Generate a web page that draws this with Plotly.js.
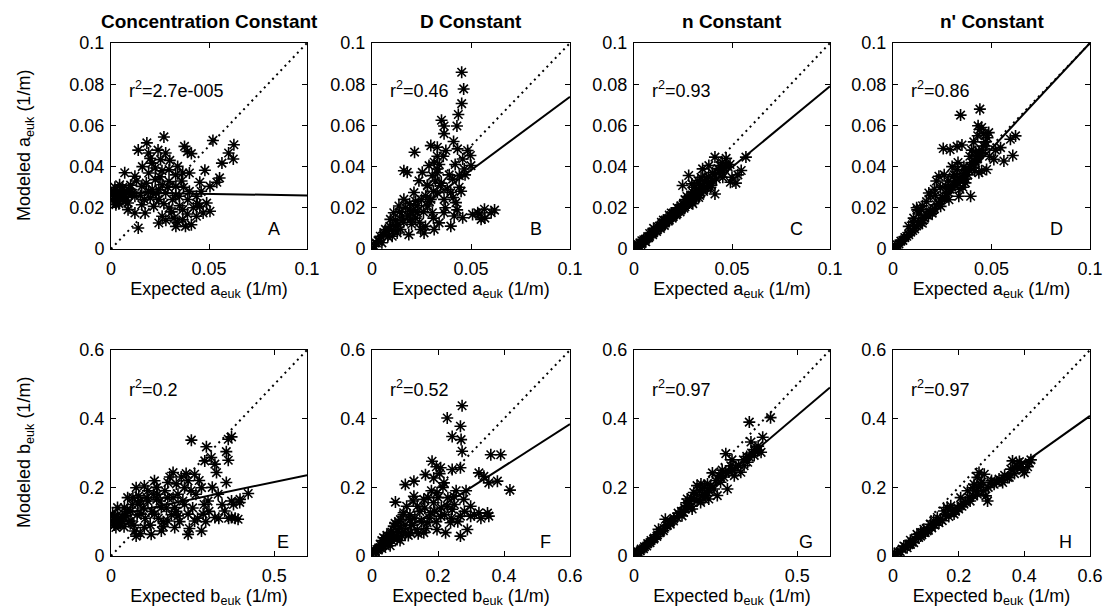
<!DOCTYPE html>
<html>
<head>
<meta charset="utf-8">
<script src="https://cdn.plot.ly/plotly-3.0.1.min.js"></script>
<style>html,body{margin:0;padding:0;background:#fff;}#chart{width:1104px;height:615px;}</style>
</head>
<body>
<div id="chart"></div>
<script>
// ---------------- DATA ----------------
const columnTitles = ["Concentration Constant", "D Constant", "n Constant", "n' Constant"];
const panelLetters = ["A","B","C","D","E","F","G","H"];
const r2Labels = ["2.7e-005","0.46","0.93","0.86","0.2","0.52","0.97","0.97"];
const topTickVals = [0, 0.02, 0.04, 0.06, 0.08, 0.1];
const topTickText = ["0", "0.02", "0.04", "0.06", "0.08", "0.1"];
const topXTickVals = [0, 0.05, 0.1];
const topXTickText = ["0", "0.05", "0.1"];
const botYTickVals = [0, 0.2, 0.4, 0.6];
const botYTickText = ["0", "0.2", "0.4", "0.6"];
const botXTickValsA = [0, 0.5];
const botXTickTextA = ["0", "0.5"];
const botXTickValsB = [0, 0.2, 0.4, 0.6];
const botXTickTextB = ["0", "0.2", "0.4", "0.6"];
// regression fits (intercept, slope) per panel A..H
const fitIntercept = [0.0275, 0.0026, 0.0005, -0.0025, 0.1156, 0.015, 0.005, 0.0];
const fitSlope     = [-0.015, 0.713, 0.785, 1.025, 0.2, 0.615, 0.81, 0.68];

// Panel A: Concentration constant, a_euk
const aX = [0.027,0.0183,0.0139,0.007,0.0375,0.041,0.052,0.0627,0.060,0.0624,0.0566,0.0554,0.054,0.0479,0.0453,0.040,0.0366,0.0296,0.0253,0.0209,0.0192,0.0226,0.0157,0.0122,0.0105,0.0052,0.0026,0.0017,0.0044,0.0035,0.0061,0.0087,0.0139,0.0174,0.0218,0.0261,0.0296,0.0331,0.0366,0.041,0.0436,0.047,0.0505,0.0488,0.0453,0.0392,0.0348,0.0314,0.0279,0.0244,0.020,0.0157,0.0122,0.0087,0.0331,0.0296,0.0261,0.040,0.034,0.039,0.0244,0.0192,0.0122,0.0366,0.0322,0.0244,0.0436,0.0505,0.0026,0.0009,0.0044,0.007,0.0192,0.0226,0.0279];
const aY = [0.0544,0.0515,0.048,0.037,0.0498,0.0463,0.0527,0.0506,0.0466,0.0437,0.0417,0.0345,0.0324,0.0382,0.0324,0.028,0.0369,0.0385,0.0434,0.0417,0.0369,0.0337,0.0304,0.0353,0.0272,0.0288,0.0256,0.028,0.0312,0.0231,0.024,0.0223,0.0102,0.0175,0.0207,0.0159,0.0199,0.011,0.0142,0.0118,0.0159,0.0175,0.0183,0.0223,0.0207,0.024,0.0256,0.024,0.0272,0.024,0.0248,0.0215,0.0175,0.0191,0.0304,0.0328,0.0312,0.0369,0.0401,0.0473,0.0288,0.028,0.0256,0.0191,0.015,0.0126,0.0256,0.0304,0.0223,0.0264,0.0264,0.0256,0.0466,0.0393,0.0466];
const aX2 = [0.001,0.002,0.003,0.004,0.005,0.006,0.007,0.008,0.009,0.010,0.0015,0.0045,0.0075,0.0025,0.011,0.013,0.015,0.017,0.018,0.021,0.023,0.025,0.027,0.029,0.031,0.033,0.035,0.037,0.039,0.042,0.044,0.046,0.028,0.034,0.038,0.020,0.024,0.016,0.030,0.033,0.036,0.026];
const aY2 = [0.024,0.030,0.027,0.022,0.026,0.030,0.028,0.025,0.029,0.031,0.0275,0.0245,0.0235,0.0215,0.027,0.033,0.026,0.024,0.032,0.029,0.027,0.035,0.022,0.030,0.018,0.026,0.021,0.030,0.017,0.020,0.022,0.028,0.014,0.013,0.011,0.044,0.048,0.040,0.043,0.036,0.033,0.038];

// Panel B: D constant, a_euk
const bX = [0.0453,0.0463,0.0453,0.0436,0.0429,0.0364,0.0351,0.0364,0.0412,0.0215,0.0297,0.033,0.0373,0.0497,0.0458,0.0314,0.033,0.0305,0.0178,0.0161,0.0237,0.0212,0.028,0.0347,0.0407,0.0466,0.0441,0.0398,0.0364,0.0424,0.0458,0.0415,0.0364,0.0305,0.0339,0.028,0.0229,0.0246,0.0186,0.0195,0.0153,0.0136,0.0161,0.011,0.0093,0.0068,0.0042,0.0022,0.0012,0.0034,0.0059,0.0085,0.0119,0.0144,0.0534,0.0568,0.0602,0.0551,0.0508,0.0619,0.0263,0.0314,0.0398,0.0271,0.033,0.0254,0.0288,0.0195,0.0127,0.0432,0.0483,0.050,0.022,0.0297,0.0102];
const bY = [0.0858,0.0777,0.0706,0.0653,0.0597,0.0597,0.0625,0.056,0.0522,0.047,0.0502,0.0494,0.0478,0.0454,0.0437,0.0421,0.0388,0.0356,0.0372,0.038,0.0331,0.0274,0.0307,0.0307,0.0339,0.0388,0.0356,0.0274,0.0241,0.0225,0.0152,0.016,0.0176,0.0176,0.0127,0.0209,0.0176,0.0095,0.007,0.0144,0.016,0.0209,0.0241,0.0176,0.0144,0.0095,0.0062,0.0029,0.0013,0.0038,0.007,0.0095,0.0111,0.0095,0.0176,0.0193,0.0176,0.0144,0.0168,0.0189,0.0078,0.0095,0.0111,0.0258,0.0274,0.0372,0.0405,0.0184,0.0078,0.0486,0.0478,0.0405,0.0232,0.0241,0.0062];
const bX2 = [0.003,0.005,0.006,0.008,0.009,0.011,0.012,0.013,0.014,0.016,0.017,0.018,0.019,0.020,0.021,0.022,0.023,0.024,0.025,0.026,0.027,0.029,0.031,0.032,0.033,0.034,0.035,0.036,0.038,0.039,0.041,0.042,0.044,0.045,0.047,0.043,0.037,0.031,0.028,0.033,0.054,0.057];
const bY2 = [0.004,0.003,0.008,0.006,0.011,0.009,0.014,0.012,0.018,0.013,0.020,0.016,0.022,0.012,0.019,0.015,0.021,0.013,0.024,0.018,0.011,0.023,0.028,0.033,0.037,0.041,0.032,0.045,0.029,0.036,0.025,0.041,0.030,0.028,0.036,0.019,0.020,0.015,0.031,0.045,0.017,0.015];

// Panel C: n constant, a_euk
const cX = [0.001,0.002,0.003,0.004,0.005,0.006,0.007,0.008,0.009,0.010,0.011,0.012,0.013,0.014,0.015,0.016,0.017,0.018,0.019,0.020,0.021,0.022,0.023,0.024,0.025,0.026,0.027,0.028,0.029,0.030,0.031,0.032,0.033,0.034,0.036,0.038,0.040,0.0015,0.0035,0.0055,0.0075,0.0095,0.0115,0.0135,0.0155,0.0175,0.0195,0.0215,0.0235,0.0255,0.0275,0.0295,0.0315,0.0335,0.0355,0.0375,0.0395,0.010,0.014,0.018,0.022,0.026,0.030,0.034,0.037,0.040,0.043,0.045,0.047,0.044,0.048,0.0571,0.0547,0.0492,0.050,0.0413,0.0382,0.035,0.0413,0.0326,0.0295,0.0303,0.0248,0.0279,0.0342,0.0437,0.0468,0.0453];
const cY = [0.0012,0.0010,0.0030,0.0028,0.0045,0.0048,0.0060,0.0062,0.0078,0.0080,0.0092,0.0095,0.0110,0.0112,0.0128,0.0126,0.0145,0.0140,0.0162,0.0158,0.0178,0.0172,0.0195,0.0190,0.0215,0.0205,0.0232,0.0225,0.0250,0.0240,0.0265,0.0262,0.0285,0.0275,0.0300,0.0320,0.0335,0.0005,0.0022,0.0038,0.0055,0.0070,0.0085,0.0100,0.0115,0.0135,0.0150,0.0165,0.0180,0.0198,0.0215,0.0230,0.0248,0.0260,0.0280,0.0295,0.0310,0.0100,0.0130,0.0165,0.0200,0.0240,0.0275,0.0310,0.0345,0.0370,0.0390,0.0420,0.0440,0.0405,0.0400,0.0446,0.0381,0.0324,0.0348,0.0446,0.0405,0.0389,0.0267,0.0332,0.0316,0.0259,0.0308,0.0357,0.0348,0.0381,0.0405,0.0348];
const cX2 = [0.002,0.004,0.006,0.008,0.012,0.016,0.020,0.024,0.028,0.032,0.035,0.036,0.038,0.039,0.041,0.042,0.044,0.046,0.045,0.049,0.052,0.053,0.031,0.027,0.019,0.015,0.033,0.030];
const cY2 = [0.0022,0.0040,0.0035,0.0075,0.0108,0.0140,0.0175,0.0210,0.0245,0.0280,0.0290,0.0330,0.0350,0.0300,0.0360,0.0340,0.0380,0.0395,0.0370,0.0410,0.0320,0.0360,0.0300,0.0255,0.0175,0.0140,0.0250,0.0220];

// Panel D: n' constant, a_euk
const dX = [0.0343,0.0441,0.0432,0.045,0.0486,0.0622,0.0596,0.0546,0.0608,0.0563,0.0512,0.0475,0.0453,0.0255,0.029,0.0325,0.0350,0.0123,0.0182,0.0233,0.0267,0.0326,0.0368,0.0394,0.0334,0.0284,0.0242,0.0199,0.0149,0.0385,0.0419,0.0436,0.001,0.002,0.003,0.004,0.005,0.006,0.007,0.008,0.009,0.010,0.011,0.012,0.013,0.014,0.015,0.016,0.017,0.018,0.019,0.020,0.021,0.022,0.023,0.024,0.025,0.026,0.027,0.028,0.029,0.030,0.031,0.032,0.033,0.034,0.035,0.036,0.037,0.038,0.039,0.040,0.041,0.042,0.043,0.044,0.045,0.046,0.047,0.048,0.0105,0.0145,0.0215,0.0305,0.0355,0.0415];
const dY = [0.065,0.0679,0.0598,0.059,0.0565,0.0549,0.0533,0.0492,0.0454,0.0427,0.0435,0.0386,0.0467,0.0488,0.0482,0.0498,0.0505,0.019,0.0272,0.0353,0.0305,0.0386,0.0321,0.0256,0.0256,0.0239,0.0207,0.0174,0.0125,0.0386,0.0419,0.037,0.0008,0.0020,0.0025,0.0038,0.0042,0.0055,0.0062,0.0070,0.0082,0.0090,0.0098,0.0112,0.0118,0.0130,0.0138,0.0150,0.0165,0.0162,0.0180,0.0185,0.0195,0.0215,0.0220,0.0232,0.0250,0.0245,0.0270,0.0275,0.0290,0.0300,0.0310,0.0330,0.0320,0.0345,0.0350,0.0365,0.0380,0.0360,0.0400,0.0420,0.0410,0.0440,0.0450,0.0470,0.0480,0.0500,0.0520,0.0540,0.0150,0.0190,0.0260,0.0350,0.0300,0.0380];
const dX2 = [0.008,0.010,0.012,0.013,0.015,0.017,0.019,0.021,0.022,0.024,0.026,0.028,0.030,0.031,0.033,0.034,0.036,0.037,0.039,0.040,0.041,0.042,0.043,0.044,0.046,0.047,0.049,0.052,0.043,0.045];
const dY2 = [0.011,0.013,0.020,0.017,0.021,0.023,0.026,0.029,0.033,0.030,0.036,0.033,0.040,0.036,0.042,0.029,0.040,0.034,0.045,0.048,0.052,0.047,0.055,0.058,0.056,0.050,0.045,0.048,0.044,0.038];

// Panel E: Concentration constant, b_euk
const eX = [0.246,0.292,0.369,0.359,0.353,0.359,0.307,0.318,0.287,0.323,0.353,0.42,0.394,0.389,0.369,0.348,0.318,0.369,0.277,0.256,0.236,0.19,0.133,0.077,0.051,0.02,0.01,0.015,0.077,0.123,0.236,0.277,0.256,0.174,0.195,0.154,0.113,0.092,0.061,0.041,0.031,0.005,0.003,0.02,0.046,0.082,0.113,0.143,0.174,0.205,0.22,0.236,0.195,0.154,0.102,0.072,0.225,0.174,0.102,0.067,0.133,0.205,0.282,0.297,0.328,0.01,0.03,0.06,0.09,0.14,0.16,0.2];
const eY = [0.3375,0.318,0.347,0.34,0.304,0.279,0.287,0.2675,0.277,0.243,0.214,0.182,0.156,0.107,0.112,0.131,0.112,0.16,0.199,0.238,0.219,0.243,0.219,0.199,0.17,0.141,0.112,0.083,0.058,0.063,0.063,0.073,0.102,0.102,0.141,0.141,0.16,0.122,0.102,0.141,0.102,0.122,0.102,0.107,0.117,0.151,0.19,0.18,0.17,0.18,0.16,0.122,0.083,0.073,0.083,0.073,0.199,0.214,0.204,0.17,0.122,0.117,0.122,0.16,0.18,0.09,0.095,0.13,0.16,0.165,0.1,0.13];
const eX2 = [0.01,0.02,0.025,0.035,0.04,0.05,0.055,0.065,0.07,0.08,0.085,0.09,0.10,0.105,0.11,0.12,0.125,0.13,0.14,0.145,0.15,0.16,0.165,0.17,0.18,0.185,0.19,0.20,0.21,0.215,0.225,0.23,0.24,0.245,0.25,0.26,0.265,0.27,0.285,0.29,0.30,0.31,0.33,0.34,0.36,0.375,0.38,0.395];
const eY2 = [0.09,0.12,0.095,0.115,0.085,0.13,0.10,0.15,0.09,0.12,0.175,0.065,0.14,0.11,0.17,0.09,0.13,0.18,0.20,0.11,0.16,0.085,0.19,0.14,0.23,0.12,0.17,0.21,0.10,0.23,0.15,0.24,0.08,0.19,0.14,0.18,0.11,0.22,0.15,0.10,0.13,0.20,0.11,0.15,0.11,0.15,0.11,0.165];

// Panel F: D constant, b_euk
const fX = [0.273,0.228,0.268,0.243,0.27,0.273,0.268,0.243,0.36,0.39,0.38,0.418,0.354,0.324,0.339,0.182,0.208,0.162,0.127,0.101,0.071,0.187,0.218,0.197,0.248,0.278,0.299,0.324,0.354,0.299,0.268,0.289,0.268,0.238,0.208,0.177,0.167,0.137,0.116,0.096,0.137,0.101,0.076,0.056,0.046,0.025,0.015,0.005,0.035,0.066,0.086,0.157,0.127,0.187,0.228,0.025,0.051,0.076,0.116,0.157,0.197,0.223,0.243,0.01,0.03,0.04,0.06,0.09];
const fY = [0.4375,0.402,0.378,0.348,0.339,0.305,0.257,0.252,0.295,0.295,0.218,0.192,0.213,0.242,0.232,0.276,0.257,0.237,0.218,0.208,0.157,0.227,0.213,0.184,0.174,0.165,0.145,0.126,0.116,0.116,0.116,0.077,0.058,0.097,0.116,0.126,0.097,0.145,0.106,0.126,0.077,0.068,0.077,0.068,0.048,0.034,0.019,0.01,0.053,0.087,0.106,0.165,0.174,0.155,0.145,0.024,0.039,0.048,0.068,0.068,0.077,0.068,0.136,0.012,0.022,0.03,0.045,0.06];
const fX2 = [0.01,0.02,0.03,0.03,0.04,0.045,0.05,0.055,0.06,0.065,0.07,0.075,0.08,0.085,0.09,0.095,0.10,0.105,0.11,0.115,0.12,0.125,0.13,0.14,0.145,0.15,0.16,0.165,0.17,0.175,0.18,0.19,0.195,0.20,0.21,0.215,0.22,0.23,0.24,0.25,0.255,0.26,0.28,0.31,0.33,0.35,0.285,0.205,0.195];
const fY2 = [0.015,0.02,0.03,0.045,0.035,0.06,0.05,0.03,0.07,0.055,0.095,0.06,0.10,0.045,0.08,0.12,0.09,0.145,0.06,0.12,0.09,0.16,0.11,0.065,0.13,0.10,0.14,0.08,0.17,0.11,0.19,0.13,0.10,0.17,0.14,0.20,0.12,0.17,0.11,0.15,0.19,0.10,0.13,0.12,0.11,0.125,0.19,0.24,0.26];

// Panel G: n constant, b_euk
const gX = [0.353,0.418,0.358,0.394,0.281,0.296,0.24,0.286,0.214,0.183,0.163,0.389,0.368,0.348,0.327,0.307,0.265,0.245,0.224,0.204,0.178,0.152,0.121,0.101,0.08,0.06,0.039,0.019,0.008,0.029,0.049,0.07,0.09,0.111,0.132,0.147,0.168,0.193,0.219,0.235,0.26,0.281,0.312,0.337,0.353,0.379,0.255,0.229,0.193,0.163,0.096,0.075,0.004,0.013];
const gY = [0.39,0.403,0.332,0.346,0.298,0.263,0.242,0.195,0.166,0.185,0.166,0.302,0.293,0.273,0.244,0.234,0.215,0.195,0.185,0.156,0.137,0.127,0.102,0.088,0.068,0.049,0.029,0.015,0.008,0.021,0.039,0.057,0.074,0.093,0.112,0.117,0.141,0.161,0.176,0.205,0.234,0.244,0.259,0.263,0.288,0.307,0.176,0.166,0.205,0.146,0.107,0.078,0.004,0.01];
const gX2 = [0.012,0.022,0.032,0.042,0.052,0.062,0.072,0.082,0.092,0.102,0.112,0.122,0.135,0.145,0.155,0.16,0.17,0.175,0.185,0.19,0.2,0.21,0.215,0.225,0.23,0.25,0.265,0.275,0.29,0.3,0.32,0.335,0.345,0.36,0.37,0.38,0.3,0.27,0.205,0.175];
const gY2 = [0.012,0.02,0.027,0.036,0.045,0.052,0.062,0.072,0.08,0.09,0.10,0.11,0.125,0.13,0.14,0.155,0.16,0.17,0.165,0.18,0.19,0.18,0.2,0.21,0.19,0.22,0.23,0.23,0.245,0.25,0.265,0.28,0.29,0.30,0.31,0.32,0.28,0.25,0.21,0.145];

// Panel H: n' constant, b_euk
const hX = [0.364,0.38,0.415,0.4,0.349,0.323,0.298,0.278,0.283,0.288,0.267,0.257,0.242,0.232,0.216,0.196,0.181,0.16,0.145,0.124,0.104,0.084,0.063,0.043,0.022,0.01,0.033,0.053,0.073,0.094,0.114,0.135,0.155,0.176,0.206,0.227,0.247,0.257,0.262,0.334,0.359,0.354,0.39,0.308,0.186,0.165,0.124,0.084,0.053,0.004];
const hY = [0.277,0.258,0.272,0.243,0.229,0.224,0.214,0.238,0.175,0.16,0.209,0.18,0.199,0.17,0.151,0.141,0.131,0.122,0.107,0.092,0.073,0.058,0.039,0.024,0.013,0.005,0.029,0.046,0.063,0.078,0.092,0.112,0.131,0.146,0.17,0.19,0.209,0.229,0.243,0.214,0.253,0.229,0.268,0.209,0.122,0.141,0.102,0.068,0.034,0.003];
const hX2 = [0.015,0.028,0.038,0.048,0.058,0.068,0.078,0.088,0.098,0.108,0.118,0.128,0.14,0.15,0.17,0.19,0.2,0.21,0.22,0.235,0.245,0.25,0.26,0.27,0.275,0.29,0.3,0.315,0.33,0.34,0.37,0.375,0.385,0.395,0.41,0.42];
const hY2 = [0.012,0.02,0.027,0.033,0.04,0.048,0.054,0.062,0.068,0.075,0.082,0.09,0.097,0.103,0.115,0.13,0.137,0.145,0.158,0.16,0.175,0.19,0.2,0.215,0.19,0.2,0.22,0.215,0.22,0.235,0.24,0.262,0.275,0.25,0.26,0.28];

// ---------------- LAYOUT ----------------
const W = 1104, H = 615;
const colPx = [[111, 307], [372, 570], [634, 830], [893, 1090]];
const rowPx = [[43, 249], [350, 556]];
const FONT = "Liberation Sans, Arial, Helvetica, sans-serif";

const panelX = [aX.concat(aX2), bX.concat(bX2), cX.concat(cX2), dX.concat(dX2), eX.concat(eX2), fX.concat(fX2), gX.concat(gX2), hX.concat(hX2)];
const panelY = [aY.concat(aY2), bY.concat(bY2), cY.concat(cY2), dY.concat(dY2), eY.concat(eY2), fY.concat(fY2), gY.concat(gY2), hY.concat(hY2)];

const traces = [];
const layout = {
  width: W, height: H,
  margin: {l: 0, r: 0, t: 0, b: 0},
  paper_bgcolor: "#fff", plot_bgcolor: "#fff",
  showlegend: false,
  font: {family: FONT, size: 18, color: "#000"},
  annotations: []
};

for (let i = 0; i < 8; i++) {
  const row = i < 4 ? 0 : 1, col = i % 4;
  const n = i + 1;
  const xa = n === 1 ? "xaxis" : "xaxis" + n;
  const ya = n === 1 ? "yaxis" : "yaxis" + n;
  const xr = n === 1 ? "x" : "x" + n;
  const yr = n === 1 ? "y" : "y" + n;
  const max = row === 0 ? 0.1 : 0.6;
  const varName = row === 0 ? "a" : "b";

  let xtv, xtt;
  if (row === 0) { xtv = topXTickVals; xtt = topXTickText; }
  else if (col === 0 || col === 2) { xtv = botXTickValsA; xtt = botXTickTextA; }
  else { xtv = botXTickValsB; xtt = botXTickTextB; }

  const common = {
    showgrid: false, zeroline: false, showline: true, linecolor: "#000", linewidth: 1,
    mirror: "ticks", ticks: "inside", ticklen: 5, tickwidth: 1, tickcolor: "#000",
    tickfont: {family: FONT, size: 18, color: "#000"}, fixedrange: true
  };
  layout[xa] = Object.assign({}, common, {
    domain: [colPx[col][0] / W, colPx[col][1] / W],
    anchor: yr, range: [0, max], tickvals: xtv, ticktext: xtt,
    ticklabelstandoff: 3,
    title: {text: "Expected " + varName + "<sub>euk</sub> (1/m)", font: {family: FONT, size: 18, color: "#000"}, standoff: 3}
  });
  layout[ya] = Object.assign({}, common, {
    domain: [1 - rowPx[row][1] / H, 1 - rowPx[row][0] / H],
    anchor: xr, range: [0, max],
    tickvals: row === 0 ? topTickVals : botYTickVals,
    ticktext: row === 0 ? topTickText : botYTickText,
    ticklabelstandoff: 2
  });

  // y-axis title on first column (placed as rotated annotation)
  if (col === 0) {
    layout.annotations.push({
      xref: "paper", yref: "paper", x: 25 / W, y: 1 - (rowPx[row][0] + rowPx[row][1]) / 2 / H,
      xanchor: "center", yanchor: "middle", textangle: -90, showarrow: false,
      text: "Modeled " + varName + "<sub>euk</sub> (1/m)", font: {family: FONT, size: 18, color: "#000"}
    });
  }

  // scatter points
  traces.push({
    type: "scatter", mode: "markers", x: panelX[i], y: panelY[i], xaxis: xr, yaxis: yr,
    marker: {symbol: "asterisk-open", size: 10, color: "#000", line: {color: "#000", width: 1.6}},
    hoverinfo: "x+y"
  });
  // 1:1 dotted line
  traces.push({
    type: "scatter", mode: "lines", x: [0, max], y: [0, max], xaxis: xr, yaxis: yr,
    line: {color: "#000", width: 2, dash: "2px,4px"}, hoverinfo: "skip"
  });
  // regression line
  traces.push({
    type: "scatter", mode: "lines", xaxis: xr, yaxis: yr,
    x: [0, max], y: [fitIntercept[i], fitIntercept[i] + fitSlope[i] * max],
    line: {color: "#000", width: 2}, hoverinfo: "skip"
  });

  // r^2 annotation
  layout.annotations.push({
    xref: xr, yref: yr, x: row === 0 ? 0.008 : 0.048, y: row === 0 ? 0.0775 : 0.488,
    xanchor: "left", yanchor: "middle", showarrow: false,
    text: "r<sup>2</sup>=" + r2Labels[i], font: {family: FONT, size: 18, color: "#000"}
  });
  // panel letter
  layout.annotations.push({
    xref: xr, yref: yr, x: row === 0 ? 0.083 : 0.525, y: row === 0 ? 0.0095 : 0.042,
    xanchor: "center", yanchor: "middle", showarrow: false,
    text: panelLetters[i], font: {family: FONT, size: 18, color: "#000"}
  });
  // column title
  if (row === 0) {
    layout.annotations.push({
      xref: "paper", yref: "paper", x: (colPx[col][0] + colPx[col][1]) / 2 / W, y: 1 - 22 / H,
      xanchor: "center", yanchor: "middle", showarrow: false,
      text: "<b>" + columnTitles[col] + "</b>", font: {family: FONT, size: 19, color: "#000"}
    });
  }
}

Plotly.newPlot("chart", traces, layout, {displayModeBar: false, staticPlot: true});
</script>
</body>
</html>
